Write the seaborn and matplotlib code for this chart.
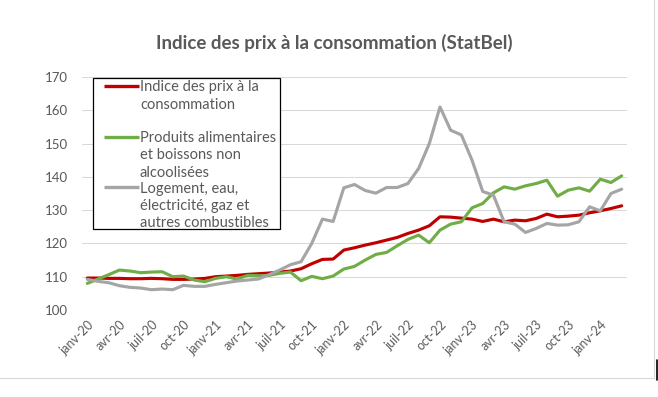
import numpy as np
import pandas as pd
import seaborn as sns
import matplotlib.pyplot as plt
from matplotlib.lines import Line2D
from matplotlib.patches import Rectangle

# Valeurs mensuelles (janv-20 -> mars-24)
indice_prix = [109.6, 109.6, 109.5, 109.5, 109.4, 109.4, 109.5, 109.4, 109.2, 109.2,
               109.3, 109.5, 110.0, 110.2, 110.4, 110.7, 110.9, 111.1, 111.4, 111.7,
               112.4, 113.9, 115.2, 115.3, 118.0, 118.7, 119.5, 120.2, 121.0, 121.8,
               123.0, 124.0, 125.3, 128.0, 127.9, 127.6, 127.3, 126.6, 127.3, 126.5,
               127.0, 126.8, 127.5, 128.8, 128.0, 128.2, 128.5, 129.2, 129.8, 130.5,
               131.3]
alimentation = [108.0, 109.3, 110.6, 112.0, 111.7, 111.2, 111.4, 111.5, 110.0, 110.2,
                109.0, 108.5, 109.5, 110.0, 109.3, 110.4, 110.3, 110.4, 111.0, 111.4,
                108.8, 110.1, 109.4, 110.2, 112.3, 113.1, 115.0, 116.7, 117.3, 119.3,
                121.2, 122.5, 120.2, 124.0, 125.8, 126.5, 130.7, 132.0, 135.2, 137.0,
                136.3, 137.3, 138.0, 139.0, 134.2, 136.0, 136.7, 135.7, 139.3, 138.3,
                140.3]
logement = [109.2, 108.6, 108.2, 107.3, 106.8, 106.6, 106.1, 106.3, 106.1, 107.4,
            107.1, 107.1, 107.7, 108.2, 108.7, 109.0, 109.3, 110.6, 112.0, 113.6,
            114.5, 120.0, 127.3, 126.6, 136.7, 137.7, 135.9, 135.1, 136.8, 136.8,
            138.0, 142.5, 150.0, 161.0, 154.0, 152.6, 145.0, 135.6, 134.5, 126.5,
            125.8, 123.3, 124.5, 126.0, 125.5, 125.6, 126.5, 131.0, 129.8, 135.0,
            136.3]

tick_labels = ["janv-20", "avr-20", "juil-20", "oct-20", "janv-21", "avr-21", "juil-21",
               "oct-21", "janv-22", "avr-22", "juil-22", "oct-22", "janv-23", "avr-23",
               "juil-23", "oct-23", "janv-24"]
series = ["Indice des prix à la\nconsommation",
          "Produits alimentaires\net boissons non\nalcoolisées",
          "Logement, eau,\nélectricité, gaz et\nautres combustibles"]
colors = ["#C00000", "#70AD47", "#A5A5A5"]

W, H = 658, 397
sns.set_style("white")
plt.rcParams['font.family'] = ['Lato', 'DejaVu Sans']
txt = "#595959"

mois = np.arange(len(indice_prix))
df = pd.DataFrame({"mois": mois, series[0]: indice_prix,
                   series[1]: alimentation, series[2]: logement})
long = df.melt(id_vars="mois", var_name="serie", value_name="valeur")

fig = plt.figure(figsize=(W / 100, H / 100), dpi=100)


def px(x, y):
    return x / W, 1 - y / H


ax = fig.add_axes([82 / W, 1 - 310 / H, 545 / W, 233 / H])
sns.lineplot(data=long, x="mois", y="valeur", hue="serie", hue_order=series,
             palette=colors, linewidth=2.25, errorbar=None, legend=False, ax=ax)

ax.set_xlim(-0.5, len(mois) - 0.5)
ax.set_ylim(100, 170)
ax.set_yticks(range(100, 171, 10))
ax.set_xticks(mois[::3])
ax.set_xticklabels(tick_labels, rotation=45, ha="right", rotation_mode="anchor")
ax.tick_params(axis="x", length=0, pad=6, labelsize=9, labelcolor=txt)
ax.tick_params(axis="y", length=0, pad=10, labelsize=9.5, labelcolor=txt)
ax.grid(axis="y", color="#D9D9D9", linewidth=0.75)
ax.set_axisbelow(True)
ax.set_xlabel("")
ax.set_ylabel("")
sns.despine(ax=ax, left=True, bottom=True)

fig.text(*px(334, 43), "Indice des prix à la consommation (StatBel)",
         ha="center", va="center", fontsize=13.5, fontweight="bold", color=txt)

# legende dessinee a la main (poignee alignee sur la premiere ligne)
x0, y0 = px(93, 229)
x1, y1 = px(280, 78)
fig.patches.append(Rectangle((x0, y0), x1 - x0, y1 - y0, transform=fig.transFigure,
                             facecolor="white", edgecolor="black", linewidth=0.9))
for lab, col, yy in zip(series, colors, [86, 136.5, 187]):
    a, b = px(104, yy)
    c, _ = px(139, yy)
    fig.lines.append(Line2D([a, c], [b, b], transform=fig.transFigure,
                            color=col, linewidth=2.4, solid_capstyle="butt"))
    fig.text(*px(140, yy - 5.5), lab, ha="left", va="top", fontsize=10.5,
             color=txt, linespacing=1.3)

# bordure de la zone du graphique
fig.lines.append(Line2D([px(654, 0)[0]] * 2, [px(0, 0)[1], px(0, 378)[1]],
                        transform=fig.transFigure, color="#D9D9D9", linewidth=0.8))
fig.lines.append(Line2D([0, px(654, 0)[0]], [px(0, 378)[1]] * 2,
                        transform=fig.transFigure, color="#D9D9D9", linewidth=0.8))
fig.lines.append(Line2D([px(657, 0)[0]] * 2, [px(0, 360)[1], px(0, 380)[1]],
                        transform=fig.transFigure, color="black", linewidth=1.2))

fig.savefig("out.png", dpi=100)
